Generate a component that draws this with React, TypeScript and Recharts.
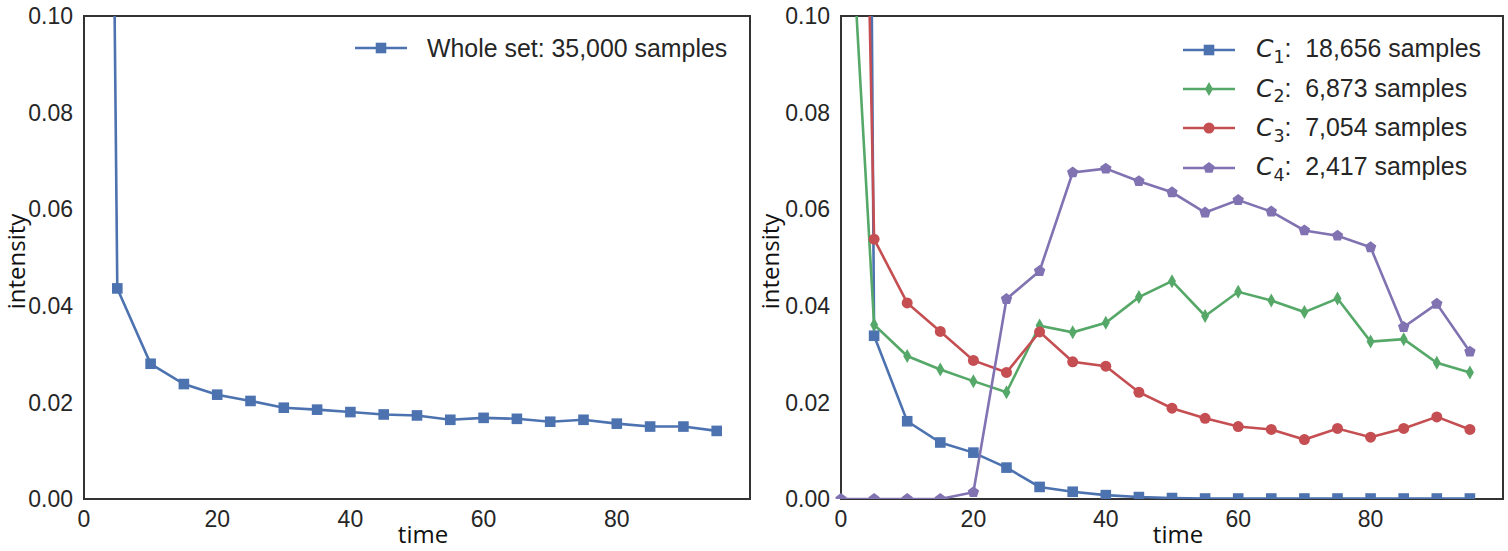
import React from 'react';
import { LineChart, Line, XAxis, YAxis, ReferenceArea, Legend } from 'recharts';

// ---------- data ----------
const times = [0, 5, 10, 15, 20, 25, 30, 35, 40, 45, 50, 55, 60, 65, 70, 75, 80, 85, 90, 95];

const wholeSet = [0.75, 0.0436, 0.028, 0.0238, 0.0216, 0.0203, 0.0189, 0.0185, 0.018, 0.0175, 0.0173, 0.0164, 0.0168, 0.0166, 0.016, 0.0164, 0.0156, 0.015, 0.015, 0.0141];

const c1 = [1.0, 0.0338, 0.0161, 0.0117, 0.0096, 0.0065, 0.0025, 0.0015, 0.0008, 0.0004, 0.0002, 0.0001, 0.0001, 0.0001, 0.0001, 0.0001, 0.0001, 0.0001, 0.0001, 0.0001];
const c2 = [0.157, 0.0361, 0.0296, 0.0268, 0.0244, 0.0221, 0.0359, 0.0345, 0.0365, 0.0418, 0.0451, 0.0379, 0.0429, 0.0411, 0.0387, 0.0415, 0.0326, 0.0331, 0.0282, 0.0262];
const c3 = [0.4, 0.0538, 0.0406, 0.0347, 0.0287, 0.0262, 0.0346, 0.0284, 0.0275, 0.0221, 0.0188, 0.0167, 0.015, 0.0144, 0.0123, 0.0146, 0.0128, 0.0146, 0.017, 0.0144];
const c4 = [0, 0, 0, 0, 0.0014, 0.0414, 0.0472, 0.0676, 0.0684, 0.0658, 0.0635, 0.0593, 0.0619, 0.0595, 0.0556, 0.0545, 0.0521, 0.0356, 0.0404, 0.0305];

const xTicks = [0, 20, 40, 60, 80];
const yTicks = [0, 0.02, 0.04, 0.06, 0.08, 0.1];

const wholeLabel = 'Whole set: 35,000 samples';
const clusterSubs = ['1', '2', '3', '4'];
const clusterCounts = ['18,656', '6,873', '7,054', '2,417'];

// ---------- styling ----------
const BLUE = '#4C72B0';
const GREEN = '#55A868';
const RED = '#C44E52';
const PURPLE = '#8172B2';
const TEXT = '#262626';
const FRAME = '#333333';
const TICK_FONT = '"Liberation Sans", Arial, sans-serif';
const LABEL_FONT = '"Open Sans", "Noto Sans", sans-serif';
const LW = 2.6;

const leftData = times.map((t, i) => ({ t, whole: wholeSet[i] }));
const rightData = times.map((t, i) => ({ t, c1: c1[i], c2: c2[i], c3: c3[i], c4: c4[i] }));

type Shape = 'square' | 'diamond' | 'circle' | 'pentagon';

function markerEl(shape: Shape, cx: number, cy: number, color: string, key?: string) {
  if (shape === 'square') {
    return <rect key={key} x={cx - 5.3} y={cy - 5.3} width={10.6} height={10.6} fill={color} />;
  }
  if (shape === 'diamond') {
    const pts = `${cx},${cy - 7} ${cx + 4},${cy} ${cx},${cy + 7} ${cx - 4},${cy}`;
    return <polygon key={key} points={pts} fill={color} />;
  }
  if (shape === 'circle') {
    return <circle key={key} cx={cx} cy={cy} r={5.5} fill={color} />;
  }
  const r = 6;
  const pts: string[] = [];
  for (let k = 0; k < 5; k++) {
    const a = -Math.PI / 2 + (k * 2 * Math.PI) / 5;
    pts.push(`${cx + r * Math.cos(a)},${cy + r * Math.sin(a)}`);
  }
  return <polygon key={key} points={pts.join(' ')} fill={color} />;
}

const dotRenderer = (shape: Shape, color: string) => (props: any) => {
  const { cx, cy, index } = props;
  const key = `dot-${shape}-${index}`;
  if (cx == null || cy == null || isNaN(cx) || isNaN(cy)) return <g key={key} />;
  return markerEl(shape, cx, cy, color, key);
};

const tickStyle = { fontFamily: TICK_FONT, fontSize: 23, fill: TEXT };

const xLabel = (props: any) => {
  const vb = props.viewBox;
  return (
    <text
      x={vb.x + vb.width / 2 + 6}
      y={vb.y + 44}
      textAnchor="middle"
      fontFamily={LABEL_FONT}
      fontSize={24}
      fill="#111"
    >
      time
    </text>
  );
};

const makeYLabel = (gap: number) => (props: any) => {
  const vb = props.viewBox;
  const x = vb.x + vb.width - gap;
  const y = vb.y + vb.height / 2 + 4;
  return (
    <text
      x={x}
      y={y}
      transform={`rotate(-90, ${x}, ${y})`}
      textAnchor="middle"
      fontFamily={LABEL_FONT}
      fontSize={24}
      fill="#111"
    >
      intensity
    </text>
  );
};

type LegendItem = { color: string; shape: Shape; content: React.ReactNode };

const legendContent = (items: LegendItem[], gap: number) => () => (
  <div style={{ display: 'flex', flexDirection: 'column' }}>
    {items.map((it, i) => (
      <div key={i} style={{ display: 'flex', alignItems: 'center', height: 39.4 }}>
        <svg width={52} height={20} style={{ display: 'block', overflow: 'visible' }}>
          <line x1={0} y1={10} x2={52} y2={10} stroke={it.color} strokeWidth={LW} />
          {markerEl(it.shape, 26, 10, it.color)}
        </svg>
        <span
          style={{
            marginLeft: gap,
            fontFamily: TICK_FONT,
            fontSize: 24.9,
            color: TEXT,
            whiteSpace: 'pre',
            lineHeight: '28px',
          }}
        >
          {it.content}
        </span>
      </div>
    ))}
  </div>
);

const leftLegendItems: LegendItem[] = [{ color: BLUE, shape: 'square', content: wholeLabel }];

const clusterColors = [BLUE, GREEN, RED, PURPLE];
const clusterShapes: Shape[] = ['square', 'diamond', 'circle', 'pentagon'];
const rightLegendItems: LegendItem[] = clusterSubs.map((s, i) => ({
  color: clusterColors[i],
  shape: clusterShapes[i],
  content: (
    <>
      <span style={{ fontFamily: '"DejaVu Sans", sans-serif', fontStyle: 'italic' }}>C</span>
      <span
        style={{
          fontFamily: '"DejaVu Sans", sans-serif',
          fontSize: '0.7em',
          position: 'relative',
          top: '0.32em',
        }}
      >
        {s}
      </span>
      {`:  ${clusterCounts[i]} samples`}
    </>
  ),
}));

function axes(labelGap: number) {
  return [
    <XAxis
      key="x"
      dataKey="t"
      type="number"
      domain={[0, 100]}
      ticks={xTicks}
      tick={tickStyle}
      tickLine={false}
      axisLine={false}
      tickSize={0}
      tickMargin={12}
      height={1}
      interval={0}
      label={{ content: xLabel }}
    />,
    <YAxis
      key="y"
      type="number"
      domain={[0, 0.1]}
      ticks={yTicks}
      allowDataOverflow
      tick={tickStyle}
      tickFormatter={(v: number) => v.toFixed(2)}
      tickLine={false}
      axisLine={false}
      tickSize={0}
      tickMargin={11}
      width={1}
      interval={0}
      label={{ content: makeYLabel(labelGap) }}
    />,
  ];
}

export default function App() {
  return (
    <div
      style={{
        position: 'absolute',
        left: 0,
        top: 0,
        width: 1508,
        height: 551,
        background: '#ffffff',
        overflow: 'hidden',
      }}
    >
      <div style={{ position: 'absolute', left: 0, top: 0 }}>
        <LineChart width={760} height={551} data={leftData} margin={{ top: 16, right: 10, bottom: 51, left: 83 }}>
          {axes(59)}
          <Line
            dataKey="whole"
            stroke={BLUE}
            strokeWidth={LW}
            dot={dotRenderer('square', BLUE)}
            activeDot={false}
            isAnimationActive={false}
          />
          <ReferenceArea x1={0} x2={100} y1={0} y2={0.1} fill="none" stroke={FRAME} strokeWidth={2} />
          <Legend
            layout="vertical"
            align="center"
            verticalAlign="middle"
            content={legendContent(leftLegendItems, 20)}
            wrapperStyle={{ left: 355, top: 28, width: 'auto' }}
          />
        </LineChart>
      </div>
      <div style={{ position: 'absolute', left: 740, top: 0 }}>
        <LineChart width={768} height={551} data={rightData} margin={{ top: 16, right: 5, bottom: 51, left: 100 }}>
          {axes(62)}
          <Line dataKey="c1" stroke={BLUE} strokeWidth={LW} dot={dotRenderer('square', BLUE)} activeDot={false} isAnimationActive={false} />
          <Line dataKey="c2" stroke={GREEN} strokeWidth={LW} dot={dotRenderer('diamond', GREEN)} activeDot={false} isAnimationActive={false} />
          <Line dataKey="c3" stroke={RED} strokeWidth={LW} dot={dotRenderer('circle', RED)} activeDot={false} isAnimationActive={false} />
          <Line dataKey="c4" stroke={PURPLE} strokeWidth={LW} dot={dotRenderer('pentagon', PURPLE)} activeDot={false} isAnimationActive={false} />
          <ReferenceArea x1={0} x2={100} y1={0} y2={0.1} fill="none" stroke={FRAME} strokeWidth={2} />
          <Legend
            layout="vertical"
            align="center"
            verticalAlign="middle"
            content={legendContent(rightLegendItems, 21)}
            wrapperStyle={{ left: 443, top: 30, width: 'auto' }}
          />
        </LineChart>
      </div>
    </div>
  );
}
